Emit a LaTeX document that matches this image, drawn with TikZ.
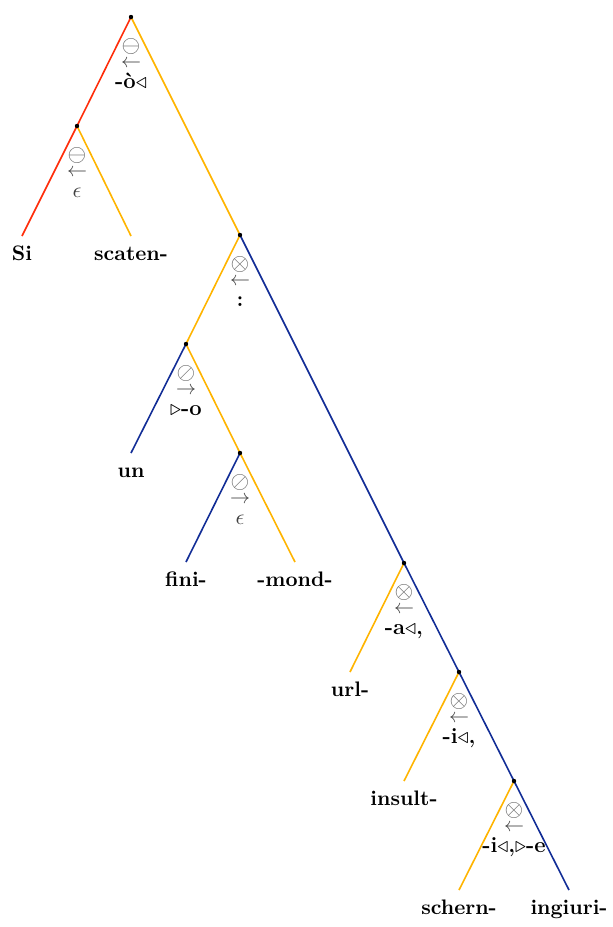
\documentclass[tikz,border=0pt]{standalone}
\usepackage{amsmath,amssymb}
\definecolor{hdred}{RGB}{255,45,10}
\definecolor{hdyel}{RGB}{255,180,0}
\definecolor{hdblue}{RGB}{18,45,150}
\tikzset{
  br/.style={line width=0.8pt},
  leaf/.style={anchor=north, inner sep=4pt, text height=8pt, text depth=2pt,
    font=\fontsize{10.5}{12}\selectfont\bfseries},
  opsym/.style={inner sep=0pt, text=black!60, font=\fontsize{11.5}{12}\selectfont},
  opdir/.style={inner sep=0pt, text=black!75},
  morph/.style={anchor=base, inner sep=0pt, font=\fontsize{11}{12}\selectfont\bfseries}
}
\begin{document}
\begin{tikzpicture}[x=0.5pt, y=-0.5pt]
  \useasboundingbox (0,0) rectangle (613,927);

  % branching points
  \coordinate (root) at (131,17);
  \coordinate (a) at (77,126);
  \coordinate (b) at (240,235);
  \coordinate (c) at (186,344);
  \coordinate (e) at (240,453);
  \coordinate (d) at (404,563);
  \coordinate (f) at (459,672);
  \coordinate (g) at (514,781);

  % leaves
  \node[leaf] (si) at (22,236) {Si};
  \node[leaf] (scaten) at (131,236) {scaten-};
  \node[leaf] (un) at (131,453) {un};
  \node[leaf] (fini) at (186,562) {fini-};
  \node[leaf] (mond) at (295,562) {-mond-};
  \node[leaf] (url) at (350,672) {url-};
  \node[leaf] (insult) at (404,781) {insult-};
  \node[leaf] (schern) at (459,890) {schern-};
  \node[leaf] (ingiuri) at (569,890) {ingiuri-};

  % branches
  \draw[br, hdred] (root) -- (a) -- (si.north);
  \draw[br, hdyel] (a) -- (scaten.north);
  \draw[br, hdyel] (root) -- (b) -- (c) -- (e) -- (mond.north);
  \draw[br, hdblue] (c) -- (un.north);
  \draw[br, hdblue] (e) -- (fini.north);
  \draw[br, hdblue] (b) -- (d) -- (f) -- (g) -- (ingiuri.north);
  \draw[br, hdyel] (d) -- (url.north);
  \draw[br, hdyel] (f) -- (insult.north);
  \draw[br, hdyel] (g) -- (schern.north);

  \foreach \n in {root,a,b,c,e,d,f,g}
    \fill (\n) circle (1.1pt);

  % operation labels under each branching point
  \foreach \n/\opname/\dir/\txt in {
      root/\ominus/\leftarrow/{-\`o$\triangleleft$},
      a/\ominus/\leftarrow/{\mdseries\textcolor{black!75}{$\epsilon$}},
      b/\otimes/\leftarrow/{:},
      c/\oslash/\rightarrow/{$\triangleright$-o},
      e/\oslash/\rightarrow/{\mdseries\textcolor{black!75}{$\epsilon$}},
      d/\otimes/\leftarrow/{-a$\triangleleft$,},
      f/\otimes/\leftarrow/{-i$\triangleleft$,},
      g/\otimes/\leftarrow/{-i$\triangleleft$,$\triangleright$-e}} {
    \node[opsym] (\n-op) at ([yshift=-14.5pt]\n) {$\opname$};
    \node[opdir] (\n-dir) at ([yshift=-23.5pt]\n) {$\dir$};
    \node[morph] (\n-txt) at ([yshift=-35.5pt]\n) {\txt};
  }
\end{tikzpicture}
\end{document}
